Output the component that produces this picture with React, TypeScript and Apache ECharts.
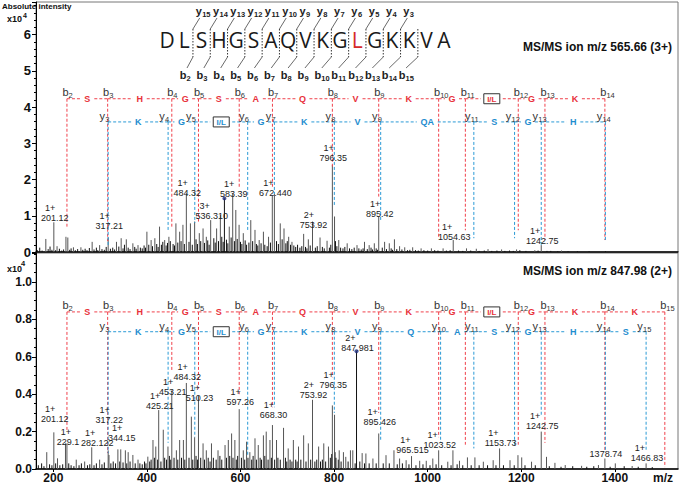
import React, { useEffect, useRef } from 'react';
import * as echarts from 'echarts';

// ---------------- data ----------------
const sequence = ['D', 'L', 'S', 'H', 'G', 'S', 'A', 'Q', 'V', 'K', 'G', 'L', 'G', 'K', 'K', 'V', 'A'];
const highlightedResidue = 11;

const xTickValues = [200, 400, 600, 800, 1000, 1200, 1400];

const topTitle = 'MS/MS ion m/z 565.66 (3+)';
const bottomTitle = 'MS/MS ion m/z 847.98 (2+)';

// [m/z, intensity x1e4]
const topPeaks: [number, number][] = [
  [184, 0.36], [201.12, 0.82], [208, 0.16], [227, 0.42], [231, 0.4], [243, 0.13], [259, 0.13], [283, 0.28], [299, 0.19],
  [317.21, 0.4], [335, 0.28], [345, 0.38], [356, 0.35], [370, 0.24], [381, 0.19], [400, 0.56], [409, 0.33], [417, 0.38],
  [427, 0.7], [438, 0.33], [447, 0.42], [462, 0.79], [470, 0.56], [477, 0.75], [484.32, 1.62], [493, 0.79], [502, 0.84],
  [512, 0.52], [520, 0.65], [527, 0.42], [536.31, 0.88], [549, 0.65], [557, 1.02], [576, 0.7], [583.39, 1.62],
  [590, 1.16], [597, 0.75], [606, 0.52], [622, 0.88], [631, 0.61], [640, 0.33], [649, 0.56], [660, 0.42], [668, 1.55],
  [672.44, 1.6], [685, 0.79], [693, 0.65], [703, 0.42], [710, 0.28], [735, 0.5], [745, 0.35], [753.92, 0.84], [770, 0.4],
  [785, 0.31], [796.35, 2.4], [801, 0.98], [810, 0.33], [828, 0.24], [849, 0.19], [865, 0.28], [875, 0.19], [886, 0.24],
  [895.42, 0.98], [908, 0.28], [918, 0.24], [929, 0.35], [940, 0.16], [951, 0.13], [968, 0.13], [986, 0.1], [1008, 0.1],
  [1033, 0.1], [1054.63, 0.33], [1083, 0.1], [1104, 0.09], [1129, 0.08], [1158, 0.07], [1190, 0.07], [1229, 0.05],
  [1242.75, 0.19], [1286, 0.04],
];
const topNoise: [number, number][] = [
  [166, 0.05], [171, 0.12], [176, 0.04], [189, 0.08], [193, 0.15], [197, 0.06], [205, 0.05], [213, 0.09], [218, 0.04],
  [222, 0.07], [235, 0.06], [238, 0.1], [247, 0.05], [252, 0.08], [263, 0.06], [268, 0.09], [272, 0.05], [277, 0.11],
  [287, 0.07], [292, 0.12], [295, 0.05], [304, 0.08], [309, 0.06], [313, 0.14], [322, 0.09], [327, 0.12], [331, 0.07],
  [340, 0.15], [349, 0.1], [352, 0.2], [360, 0.12], [364, 0.08], [374, 0.14], [377, 0.09], [386, 0.12], [390, 0.1],
  [394, 0.18], [397, 0.12], [404, 0.2], [412, 0.16], [421, 0.22], [424, 0.14], [431, 0.2], [434, 0.28], [441, 0.18],
  [444, 0.25], [450, 0.3], [456, 0.22], [459, 0.18], [466, 0.26], [473, 0.3], [480, 0.22], [490, 0.28], [497, 0.2],
  [505, 0.35], [508, 0.22], [515, 0.3], [523, 0.25], [530, 0.32], [533, 0.2], [543, 0.38], [546, 0.26], [553, 0.3],
  [560, 0.42], [563, 0.28], [570, 0.34], [573, 0.24], [580, 0.4], [587, 0.3], [593, 0.36], [600, 0.28], [603, 0.22],
  [610, 0.32], [613, 0.2], [618, 0.26], [626, 0.3], [634, 0.22], [637, 0.18], [644, 0.24], [652, 0.2], [657, 0.16],
  [664, 0.26], [677, 0.3], [681, 0.22], [689, 0.35], [697, 0.24], [700, 0.3], [707, 0.2], [714, 0.18], [718, 0.14],
  [722, 0.2], [727, 0.12], [731, 0.16], [739, 0.14], [742, 0.1], [749, 0.18], [760, 0.12], [764, 0.16], [775, 0.14],
  [779, 0.1], [790, 0.12], [793, 0.2], [803, 0.3], [806, 0.16], [814, 0.12], [819, 0.1], [823, 0.14], [833, 0.1],
  [838, 0.08], [843, 0.12], [853, 0.1], [858, 0.07], [862, 0.1], [871, 0.08], [879, 0.12], [882, 0.07], [890, 0.1],
  [893, 0.06], [903, 0.12], [912, 0.08], [922, 0.1], [925, 0.06], [934, 0.08], [945, 0.07], [957, 0.05], [962, 0.06],
  [974, 0.05], [980, 0.04], [992, 0.05], [1000, 0.04], [1015, 0.05], [1022, 0.04], [1040, 0.04], [1048, 0.05],
  [1066, 0.04], [1075, 0.03], [1092, 0.04], [1110, 0.03], [1121, 0.04], [1137, 0.03], [1148, 0.04], [1165, 0.03],
  [1175, 0.04], [1183, 0.03], [1197, 0.05], [1210, 0.03], [1236, 0.04], [1255, 0.03], [1263, 0.03], [1278, 0.02],
  [1300, 0.02], [1320, 0.02], [1345, 0.02], [1380, 0.02],
];
const topPrecursor: [number, number][] = [[565.66, 1.48]];

const bottomPeaks: [number, number][] = [
  [186, 0.09], [201.12, 0.196], [209, 0.057], [226, 0.137], [229.1, 0.137], [249, 0.05], [267, 0.04], [282.12, 0.116],
  [299, 0.05], [317.22, 0.1], [319, 0.075], [338, 0.105], [344.15, 0.105], [354, 0.1], [360, 0.09], [370, 0.075],
  [381, 0.05], [402, 0.066], [413, 0.155], [419, 0.12], [425.21, 0.315], [435, 0.21], [445, 0.12], [453.21, 0.42],
  [463, 0.1], [470, 0.155], [478, 0.155], [484.32, 0.46], [495, 0.28], [502, 0.17], [510.23, 0.39], [520, 0.137],
  [527, 0.1], [538, 0.137], [552, 0.1], [567, 0.128], [574, 0.155], [581, 0.19], [588, 0.155], [597.26, 0.32],
  [606, 0.1], [613, 0.146], [620, 0.09], [631, 0.164], [638, 0.128], [649, 0.18], [655, 0.2], [663, 0.155],
  [668.3, 0.235], [677, 0.155], [692, 0.22], [702, 0.11], [713, 0.155], [724, 0.12], [735, 0.18], [745, 0.137],
  [753.92, 0.37], [767, 0.12], [778, 0.137], [788, 0.12], [796.35, 0.34], [801, 0.29], [811, 0.1], [820, 0.09],
  [825, 0.065], [835, 0.1], [840, 0.1], [860, 0.085], [868, 0.083], [883, 0.056], [895.43, 0.19], [911, 0.074],
  [928, 0.1], [940, 0.056], [954, 0.047], [965.52, 0.069], [983, 0.044], [997, 0.044], [1011, 0.056], [1023.52, 0.1],
  [1043, 0.039], [1054, 0.1], [1068, 0.044], [1085, 0.062], [1101, 0.062], [1119, 0.039], [1140, 0.047],
  [1153.73, 0.11], [1176, 0.047], [1193, 0.074], [1201, 0.062], [1222, 0.039], [1242.75, 0.2], [1254, 0.065],
  [1272, 0.033], [1294, 0.021], [1329, 0.017], [1365, 0.021], [1378.74, 0.056], [1401, 0.03], [1437, 0.016],
  [1466.83, 0.03],
];
const bottomNoise: [number, number][] = [
  [168, 0.02], [175, 0.03], [180, 0.015], [192, 0.025], [197, 0.02], [205, 0.03], [214, 0.02], [220, 0.025], [233, 0.03],
  [238, 0.02], [244, 0.015], [255, 0.02], [260, 0.03], [273, 0.02], [278, 0.025], [287, 0.02], [292, 0.03], [304, 0.025],
  [309, 0.035], [323, 0.03], [328, 0.04], [333, 0.03], [342, 0.04], [349, 0.035], [357, 0.03], [364, 0.04], [375, 0.03],
  [385, 0.03], [390, 0.025], [395, 0.04], [398, 0.03], [406, 0.04], [409, 0.05], [416, 0.06], [423, 0.05], [430, 0.04],
  [438, 0.06], [442, 0.05], [448, 0.07], [451, 0.05], [458, 0.06], [466, 0.05], [474, 0.06], [481, 0.05], [490, 0.06],
  [498, 0.05], [505, 0.07], [508, 0.05], [515, 0.06], [523, 0.05], [531, 0.06], [535, 0.04], [542, 0.06], [548, 0.05],
  [556, 0.07], [560, 0.05], [570, 0.06], [577, 0.07], [584, 0.06], [591, 0.05], [594, 0.07], [602, 0.06], [609, 0.05],
  [616, 0.06], [624, 0.05], [627, 0.07], [634, 0.05], [642, 0.06], [645, 0.05], [652, 0.07], [659, 0.05], [666, 0.06],
  [673, 0.05], [680, 0.06], [685, 0.05], [696, 0.06], [699, 0.04], [706, 0.05], [710, 0.04], [718, 0.05], [721, 0.04],
  [729, 0.05], [740, 0.04], [750, 0.05], [759, 0.04], [763, 0.05], [771, 0.04], [775, 0.05], [782, 0.04], [792, 0.06],
  [795, 0.08], [802, 0.09], [804, 0.06], [809, 0.05], [815, 0.04], [830, 0.04], [845, 0.03], [855, 0.04], [865, 0.03],
  [875, 0.03], [890, 0.03], [905, 0.03], [918, 0.03], [935, 0.025], [946, 0.03], [960, 0.025], [975, 0.02], [990, 0.025],
  [1005, 0.02], [1018, 0.025], [1030, 0.02], [1050, 0.02], [1063, 0.025], [1075, 0.02], [1093, 0.02], [1110, 0.02],
  [1128, 0.02], [1146, 0.02], [1162, 0.02], [1185, 0.02], [1208, 0.02], [1230, 0.02], [1260, 0.015], [1285, 0.012],
  [1310, 0.015], [1340, 0.012], [1355, 0.015], [1390, 0.012], [1420, 0.015], [1450, 0.012], [1480, 0.01],
];
const bottomPrecursor: [number, number][] = [[847.98, 0.63]];

// [label anchor m/z, label anchor intensity, charge, text]
const topLabels: [number, number, string, string][] = [
  [201.12, 0.8, '1+', '201.12'], [317.21, 0.57, '1+', '317.21'], [484.32, 1.49, '1+', '484.32'],
  [536.31, 0.84, '3+', '536.310'], [583.39, 1.46, '1+', '583.39'], [672.44, 1.49, '1+', '672.440'],
  [753.92, 0.58, '2+', '753.92'], [796.35, 2.43, '1+', '796.35'], [895.42, 0.91, '1+', '895.42'],
  [1054.63, 0.25, '1+', '1054.63'], [1242.75, 0.15, '1+', '1242.75'],
];
const bottomLabels: [number, number, string, string][] = [
  [201.12, 0.237, '1+', '201.12'], [229.1, 0.114, '1+', '229.1'], [292, 0.107, '1+', '282.122'],
  [317.22, 0.235, '1+', '317.22'], [344.15, 0.134, '1+', '344.15'], [425.21, 0.31, '1+', '425.21'],
  [453.21, 0.38, '1+', '453.21'], [484.32, 0.465, '1+', '484.32'], [510.23, 0.35, '1+', '510.23'],
  [597.26, 0.33, '1+', '597.26'], [668.3, 0.257, '1+', '668.30'], [753.92, 0.364, '2+', '753.92'],
  [796.35, 0.42, '1+', '796.35'], [847.98, 0.615, '2+', '847.981'], [895.43, 0.22, '1+', '895.426'],
  [965.52, 0.07, '1+', '965.515'], [1023.52, 0.1, '1+', '1023.52'], [1153.73, 0.107, '1+', '1153.73'],
  [1242.75, 0.2, '1+', '1242.75'], [1378.74, 0.053, '', '1378.74'], [1466.83, 0.03, '1+', '1466.83'],
];

// fragment ladders: [ion number, m/z, lower end of the marker line (intensity)]
const topBIons: [number, number, number][] = [
  [2, 229.12, 0.7], [3, 316.15, 0.3], [4, 453.21, 0.7], [5, 510.23, 0.84], [6, 597.26, 1.8], [7, 668.3, 1.8],
  [8, 796.36, 2.36], [9, 895.42, 1.53], [10, 1023.52, 0.42], [11, 1080.54, 0.6], [12, 1193.62, 0.6],
  [13, 1250.65, 0.33], [14, 1378.74, 0.33],
];
const topBLetters = ['S', 'H', 'G', 'S', 'A', 'Q', 'V', 'K', 'G', 'I/L', 'G', 'K'];
const topYIons: [number, number, number][] = [
  [3, 317.22, 0.15], [4, 445.31, 0.56], [5, 502.33, 0.8], [6, 615.42, 0.56], [7, 672.44, 1.6], [8, 800.54, 1.25],
  [9, 899.6, 0.88], [11, 1098.7, 0.38], [12, 1185.73, 0.38], [13, 1242.75, 0.15], [14, 1379.81, 0.33],
];
const topYLetters = ['K', 'G', 'I/L', 'G', 'K', 'V', 'QA', 'S', 'G', 'H'];

const bottomBIons: [number, number, number][] = [
  [2, 229.12, 0.2], [3, 316.15, 0.085], [4, 453.21, 0.52], [5, 510.23, 0.43], [6, 597.26, 0.4], [7, 668.3, 0.33],
  [8, 796.36, 0.49], [9, 895.42, 0.3], [10, 1023.52, 0.17], [11, 1080.54, 0.13], [12, 1193.62, 0.13],
  [13, 1250.65, 0.14], [14, 1378.74, 0.1], [15, 1506.84, 0.01],
];
const bottomBLetters = ['S', 'H', 'G', 'S', 'A', 'Q', 'V', 'K', 'G', 'I/L', 'G', 'K', 'K'];
const bottomYIons: [number, number, number][] = [
  [3, 317.22, 0.085], [4, 445.31, 0.14], [5, 502.33, 0.17], [6, 615.42, 0.066], [7, 672.44, 0.33], [8, 800.54, 0.3],
  [9, 899.6, 0.15], [10, 1027.66, 0.14], [11, 1098.7, 0.11], [12, 1185.73, 0.12], [13, 1242.75, 0.28],
  [14, 1379.81, 0.1], [15, 1466.84, 0.1],
];
const bottomYLetters = ['K', 'G', 'I/L', 'G', 'K', 'V', 'Q', 'A', 'S', 'G', 'H', 'S'];

// ladder levels (intensity units of each panel)
const topLevels = { b: 4.23, y: 3.59 };
const bottomLevels = { b: 0.84, y: 0.734 };

// ---------------- helpers ----------------
const FONT = 'Arial, "Liberation Sans", sans-serif';

function txt(text: string, x: number, y: number, font: string, fill: string, align = 'center', vAlign = 'middle', extra: any = {}) {
  return {
    type: 'text',
    x, y,
    style: { text, font, fill, align, verticalAlign: vAlign, textAlign: align, textVerticalAlign: vAlign, ...extra },
  };
}

function stickSeries(peaks: [number, number][], noise: [number, number][], precursor: [number, number][], idx: number) {
  const data = [
    ...noise.map((p) => [p[0], p[1], 1]),
    ...peaks.map((p) => [p[0], p[1], 0]),
    ...precursor.map((p) => [p[0], p[1], 1]),
  ];
  return {
    type: 'custom', xAxisIndex: idx, yAxisIndex: idx, z: 2, silent: true,
    encode: { x: 0, y: 1 },
    data,
    renderItem: (params: any, api: any) => {
      const x = api.value(0), y = api.value(1), kind = api.value(2);
      const p0 = api.coord([x, 0]);
      const p1 = api.coord([x, y]);
      return {
        type: 'line',
        shape: { x1: p0[0], y1: p0[1], x2: p1[0], y2: p1[1] },
        style: { stroke: kind ? '#111' : '#555', lineWidth: 1 },
      };
    },
  };
}

function labelSeries(labels: [number, number, string, string][], idx: number) {
  return {
    type: 'custom', xAxisIndex: idx, yAxisIndex: idx, z: 6, silent: true,
    encode: { x: 0, y: 1 },
    data: labels.map((l) => [l[0], l[1]]),
    renderItem: (params: any, api: any) => {
      const l = labels[params.dataIndex];
      const p = api.coord([l[0], l[1]]);
      const cx = p[0] + 1;
      const w = l[3].replace('.', '').length * 5 + 2.5;
      const children: any[] = [txt(l[3], cx, p[1] - 1, '9px ' + FONT, '#222', 'center', 'bottom')];
      if (l[2]) children.push(txt(l[2], cx - w / 2 + 4, p[1] - 11, '9px ' + FONT, '#222', 'left', 'bottom'));
      return { type: 'group', children };
    },
  };
}

function ladderSeries(ions: [number, number, number][], letters: string[], kind: 'b' | 'y', level: number, idx: number) {
  const color = kind === 'b' ? '#f0404b' : '#2b9ad6';
  const letterColor = kind === 'b' ? '#e8313b' : '#1f8dcf';
  return {
    type: 'custom', xAxisIndex: idx, yAxisIndex: idx, z: 4, silent: true,
    encode: { x: 0, y: 1 },
    data: ions.map((d) => [d[1], d[2]]),
    renderItem: (params: any, api: any) => {
      const i = params.dataIndex;
      const [n, mz, end] = ions[i];
      const top = api.coord([mz, level]);
      const bot = api.coord([mz, end]);
      const dash = [3, 2];
      const children: any[] = [];
      children.push({
        type: 'line',
        shape: { x1: top[0], y1: top[1], x2: bot[0], y2: bot[1] },
        style: { stroke: color, lineWidth: 1, lineDash: dash },
      });
      const lx = kind === 'b' ? top[0] - 1.5 : top[0] - 6;
      const ly = kind === 'b' ? top[1] - 7 : top[1] - 6;
      children.push(txt(kind, lx, ly, '11px ' + FONT, '#333'));
      children.push(txt(String(n), lx + 3, ly + 4, '7.5px ' + FONT, '#333', 'left'));
      if (i < ions.length - 1) {
        const next = api.coord([ions[i + 1][1], level]);
        const mid = (top[0] + next[0]) / 2;
        const letter = letters[i];
        const boxed = letter === 'I/L';
        const half = boxed ? 11 : letter.length * 3.5 + 3.5;
        const segs: [number, number][] = [[top[0], mid - half], [mid + half, next[0]]];
        segs.forEach(([a, b]) => {
          if (b - a > 1) {
            children.push({
              type: 'line',
              shape: { x1: a, y1: top[1], x2: b, y2: top[1] },
              style: { stroke: color, lineWidth: 1, lineDash: dash },
            });
          }
        });
        if (boxed) {
          children.push({
            type: 'rect',
            shape: { x: mid - 8, y: top[1] - 5, width: 16, height: 10 },
            style: { stroke: '#333', lineWidth: 1, fill: '#fff' },
          });
          children.push(txt(letter, mid, top[1] + 0.5, 'bold 8px ' + FONT, letterColor));
        } else {
          children.push(txt(letter, mid, top[1] + 0.5, 'bold 9px ' + FONT, letterColor));
        }
      }
      return { type: 'group', children };
    },
  };
}

function headerGraphics() {
  const els: any[] = [];
  const x0 = 167, dx = 17.3, yC = 40;
  sequence.forEach((aa, i) => {
    els.push(txt(aa, x0 + i * dx, yC, '21px "Open Sans", Arial, sans-serif', i === highlightedResidue ? '#d42a2a' : '#1a1a1a'));
  });
  for (let k = 2; k <= sequence.length - 2; k++) {
    const xs = x0 + (k - 0.5) * dx;
    els.push({ type: 'line', shape: { x1: xs, y1: 29, x2: xs, y2: 57 }, style: { stroke: '#333', lineWidth: 1, lineDash: [1.5, 1.5] } });
    const yNum = sequence.length - k;
    if (yNum >= 3) {
      const xl = 201.7 + (k - 2) * 17.3;
      els.push({ type: 'line', shape: { x1: xs, y1: 29, x2: xl - 2, y2: 18 }, style: { stroke: '#444', lineWidth: 0.8 } });
      els.push(txt('y', xl - 3, 11, 'bold 11px ' + FONT, '#222'));
      els.push(txt(String(yNum), xl + 0.5, 14, 'bold 7.5px ' + FONT, '#222', 'left'));
    }
    const xb = 186 + (k - 2) * 16.85;
    els.push({ type: 'line', shape: { x1: xs, y1: 57, x2: xb + 1, y2: 68 }, style: { stroke: '#444', lineWidth: 0.8 } });
    els.push(txt('b', xb - 3, 75, 'bold 11px ' + FONT, '#222'));
    els.push(txt(String(k), xb + 0.5, 78.5, 'bold 7.5px ' + FONT, '#222', 'left'));
  }
  return els;
}

function buildOption() {
  const xMin = 163, xMax = 1535;
  const baseX = (idx: number, showLabels: boolean) => ({
    type: 'value', gridIndex: idx, min: xMin, max: xMax, position: 'bottom',
    splitLine: { show: false },
    axisLine: { show: true, onZero: false, lineStyle: { color: '#000', width: 1.5 } },
    axisTick: { show: showLabels, customValues: xTickValues, length: 3, lineStyle: { color: '#000' } },
    axisLabel: {
      show: showLabels, customValues: xTickValues, margin: 3, color: '#111',
      fontWeight: 'bold', fontSize: 12, fontFamily: FONT,
      formatter: (v: number) => String(Math.round(v)),
    },
  });
  const graphics: any[] = [
    ...headerGraphics(),
    txt(topTitle, 672, 47, 'bold 12px ' + FONT, '#111', 'right'),
    txt(bottomTitle, 672, 271, 'bold 12px ' + FONT, '#111', 'right'),
    txt('Absolute intensity', 2, 6, 'bold 8px ' + FONT, '#111', 'left'),
    txt('x10', 7, 19, 'bold 9px ' + FONT, '#111', 'left'),
    txt('4', 23, 15.5, 'bold 7px ' + FONT, '#111', 'left'),
    txt('x10', 7, 269, 'bold 9px ' + FONT, '#111', 'left'),
    txt('4', 21, 263, 'bold 7.5px ' + FONT, '#111', 'left'),
    txt('m/z', 663, 478, 'bold 12px ' + FONT, '#111'),
  ];
  return {
    animation: false,
    backgroundColor: '#fff',
    grid: [
      { left: 36, top: 2, width: 642, height: 250, show: true, borderColor: '#777', borderWidth: 1, backgroundColor: 'transparent' },
      { left: 36, top: 253, width: 642, height: 216, show: true, borderColor: '#777', borderWidth: 1, backgroundColor: 'transparent' },
    ],
    xAxis: [baseX(0, false), baseX(1, true)],
    yAxis: [
      {
        type: 'value', gridIndex: 0, min: 0, max: 6.9, interval: 1,
        splitLine: { show: false },
        axisLine: { show: true, lineStyle: { color: '#000', width: 1 } },
        axisTick: { show: true, length: 4, lineStyle: { color: '#000' } },
        minorTick: { show: true, splitNumber: 5, length: 2, lineStyle: { color: '#000' } },
        axisLabel: {
          margin: 5, color: '#111', fontWeight: 'bold', fontSize: 13, fontFamily: FONT, showMaxLabel: false,
          formatter: (v: number) => (Math.abs(v - Math.round(v)) < 1e-6 ? String(Math.round(v)) : ''),
        },
      },
      {
        type: 'value', gridIndex: 1, min: 0, max: 1.155, interval: 0.2,
        splitLine: { show: false },
        axisLine: { show: true, lineStyle: { color: '#000', width: 1 } },
        axisTick: { show: true, length: 4, lineStyle: { color: '#000' } },
        minorTick: { show: true, splitNumber: 4, length: 2, lineStyle: { color: '#000' } },
        axisLabel: {
          margin: 4, color: '#111', fontWeight: 'bold', fontSize: 12, fontFamily: FONT, showMaxLabel: false,
          formatter: (v: number) => (Math.abs(v * 5 - Math.round(v * 5)) < 1e-6 ? v.toFixed(1) : ''),
        },
      },
    ],
    series: [
      stickSeries(topPeaks, topNoise, topPrecursor, 0),
      stickSeries(bottomPeaks, bottomNoise, bottomPrecursor, 1),
      ladderSeries(topBIons, topBLetters, 'b', topLevels.b, 0),
      ladderSeries(topYIons, topYLetters, 'y', topLevels.y, 0),
      ladderSeries(bottomBIons, bottomBLetters, 'b', bottomLevels.b, 1),
      ladderSeries(bottomYIons, bottomYLetters, 'y', bottomLevels.y, 1),
      labelSeries(topLabels, 0),
      labelSeries(bottomLabels, 1),
      {
        type: 'scatter', xAxisIndex: 0, yAxisIndex: 0, z: 7, silent: true,
        symbolSize: 4, itemStyle: { color: '#1b2a7a' }, data: topPrecursor,
      },
      {
        type: 'scatter', xAxisIndex: 1, yAxisIndex: 1, z: 7, silent: true,
        symbolSize: 4, itemStyle: { color: '#1b2a7a' }, data: bottomPrecursor,
      },
    ],
    graphic: graphics,
  };
}

export default function App() {
  const ref = useRef<HTMLDivElement>(null);
  useEffect(() => {
    const chart = echarts.init(ref.current!, null, { renderer: 'svg' });
    chart.setOption(buildOption() as any);
    return () => chart.dispose();
  }, []);
  return (
    <div
      ref={ref}
      style={{ position: 'fixed', left: 0, top: 0, width: 683, height: 484, background: '#fff' }}
    />
  );
}
